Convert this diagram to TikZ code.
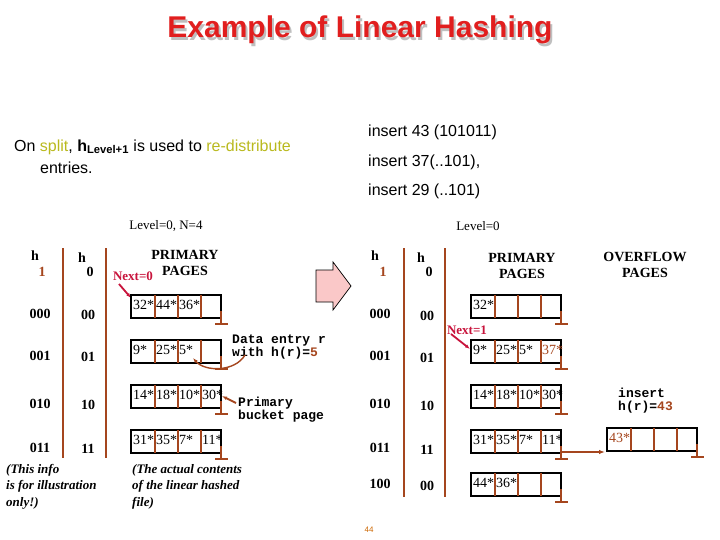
\documentclass[tikz,border=0pt]{standalone}
\usepackage{fontspec}
\setmainfont{Liberation Serif}
\setsansfont{Liberation Sans}
\setmonofont{Liberation Mono}
\usetikzlibrary{arrows.meta}
\definecolor{br}{RGB}{165,70,30}
\definecolor{nx}{RGB}{200,20,60}
\definecolor{ttl}{RGB}{225,30,30}
\definecolor{yl}{RGB}{185,185,30}
\definecolor{pk}{RGB}{250,200,200}
\tikzset{
 lab/.style={font=\fontsize{14}{14}\selectfont\bfseries, inner sep=0pt},
 cell/.style={font=\fontsize{14}{14}\selectfont, inner sep=0pt, anchor=west},
 bar/.style={br, line width=2.4pt},
 pbox/.style={draw=black, line width=1.8pt},
 div/.style={br, line width=1.4pt},
 ital/.style={font=\fontsize{13}{16.5}\selectfont\bfseries\itshape, inner sep=0pt, anchor=north west, align=left},
 mono/.style={font=\fontsize{13}{13}\ttfamily\bfseries, inner sep=0pt, anchor=west, align=left},
 bigsans/.style={font=\fontsize{16}{16}\sffamily, inner sep=0pt, anchor=west},
 hdr/.style={font=\fontsize{14}{16}\selectfont\bfseries, align=center, inner sep=0pt},
}
\newcommand{\bucket}[7]{%
 \draw[pbox] (#1,#2) rectangle ++(90,23);
 \draw[div] (#1+24,#2) -- ++(0,23) (#1+47,#2) -- ++(0,23) (#1+70,#2) -- ++(0,23);
 \node[cell] at (#1+2,#2+10) {#3};
 \node[cell] at (#1+25,#2+10) {#4};
 \node[cell] at (#1+48,#2+10) {#5};
 \node[cell] at (#1+71,#2+10) {#6};
 #7}
\newcommand{\tick}[2]{\draw[div] (#1,#2+16) -- (#1,#2+29) (#1-6,#2+29) -- (#1+7,#2+29);}
\begin{document}
\begin{tikzpicture}[x=1pt,y=-1pt]
\useasboundingbox (0,0) rectangle (720,540);
\node[font=\fontsize{30}{30}\sffamily\bfseries, text=gray!50] (shadow) at (362,33) {Example of Linear Hashing};
\node[font=\fontsize{30}{30}\sffamily\bfseries, text=ttl] (title) at (360,30) {Example of Linear Hashing};
\node[bigsans] (t1) at (14,147) {On \textcolor{yl}{split}, \textbf{h}\textsubscript{\textbf{Level+1}} is used to \textcolor{yl}{re-distribute}};
\node[bigsans] (t2) at (40,168) {entries.};
\node[bigsans] (i1) at (368,132) {insert 43 (101011)};
\node[bigsans] (i2) at (368,162) {insert 37(..101),};
\node[bigsans] (i3) at (368,191) {insert 29 (..101)};
\node[font=\fontsize{13}{13}\selectfont] (lv1) at (166,226) {Level=0, N=4};
\node[font=\fontsize{13}{13}\selectfont] (lv2) at (478,226) {Level=0};
% left table
\draw[bar] (63,248) -- (63,458);
\draw[bar] (106,248) -- (106,458);
\node[lab] (lh1) at (35,256) {h};
\node[lab,text=br] (lh1b) at (42,272) {1};
\node[lab] (lh0) at (82,258) {h};
\node[lab] (lh0b) at (90,272) {0};
\foreach \a/\b/\y in {000/00/314,001/01/356,010/10/404,011/11/448}{
 \node[lab] at (40,\y) {\a};
 \node[lab] at (88,\y+1) {\b};
}
\node[hdr] (pp1) at (185,263) {PRIMARY\\PAGES};
\node[font=\fontsize{13}{13}\selectfont\bfseries, text=nx, inner sep=0pt] (n0) at (133,276) {Next=0};
\coordinate (n0s) at (119,284);
\coordinate (b0) at (131,298);
\draw[nx, line width=1.8pt, -{Latex[length=5pt]}] (n0s) -- (b0);
\bucket{131}{295}{32*}{44*}{36*}{}{\tick{221}{295}}
\bucket{131}{340}{9*}{25*}{5*}{}{\tick{221}{340}}
\bucket{131}{385}{14*}{18*}{10*}{30*}{\tick{221}{385}}
\bucket{131}{430}{31*}{35*}{7*}{11*}{\tick{221}{430}}
\node[mono] (de) at (232,347) {Data entry r\\with h(r)=\textcolor{br}{5}};
\draw[br, line width=1.4pt, -{Latex[length=5pt]}] (245,355) .. controls (235,372) and (205,372) .. (193,358);
\node[mono] (pb) at (238,410) {Primary\\bucket page};
\draw[br, line width=1.8pt, -{Latex[length=5pt]}] (236,403) -- (222,396);
\node[ital] (n1) at (6,464) {(This info\\is for illustration\\only!)};
\node[ital] (n2) at (132,464) {(The actual contents\\of the linear hashed\\file)};
\draw[fill=pk, draw=black, line width=0.7pt] (316,270) -- (333,270) -- (333,262) -- (351,286) -- (333,310) -- (333,302) -- (316,302) -- cycle;
% right table
\draw[bar] (404,248) -- (404,497);
\draw[bar] (445,248) -- (445,497);
\node[lab] (rh1) at (375,256) {h};
\node[lab,text=br] (rh1b) at (383,272) {1};
\node[lab] (rh0) at (421,258) {h};
\node[lab] (rh0b) at (429,272) {0};
\foreach \a/\b/\y in {000/00/314,001/01/356,010/10/404,011/11/448,100/00/484}{
 \node[lab] at (380,\y) {\a};
 \node[lab] at (427,\y+2) {\b};
}
\node[hdr] (pp2) at (522,266) {PRIMARY\\PAGES};
\node[hdr] (op) at (645,265) {OVERFLOW\\PAGES};
\bucket{471}{295}{32*}{}{}{}{\tick{561}{295}}
\bucket{471}{340}{9*}{25*}{5*}{\textcolor{br}{37*}}{\tick{561}{340}}
\bucket{471}{385}{14*}{18*}{10*}{30*}{\tick{561}{385}}
\bucket{471}{430}{31*}{35*}{7*}{11*}{\tick{561}{430}}
\bucket{471}{473}{44*}{36*}{}{}{\tick{561}{473}}
\bucket{607}{428}{\textcolor{br}{43*}}{}{}{}{\tick{697}{428}}
\coordinate (ovsrc) at (561,452);
\coordinate (ovdst) at (605,452);
\draw[br, line width=1.8pt, -{Latex[length=6pt]}] (ovsrc) -- (ovdst);
\node[font=\fontsize{13}{13}\selectfont\bfseries, text=nx] (n1r) at (467,330) {Next=1};
\coordinate (n1s) at (451,334);
\coordinate (b1) at (470,349);
\draw[nx, line width=1.8pt, -{Latex[length=5pt]}] (n1s) -- (b1);
\node[mono] (ih) at (618,401) {insert\\h(r)=\textcolor{br}{43}};
\node[font=\fontsize{8}{8}\sffamily, text=orange!80!black] (pg) at (369,530) {44};
\end{tikzpicture}
\end{document}
